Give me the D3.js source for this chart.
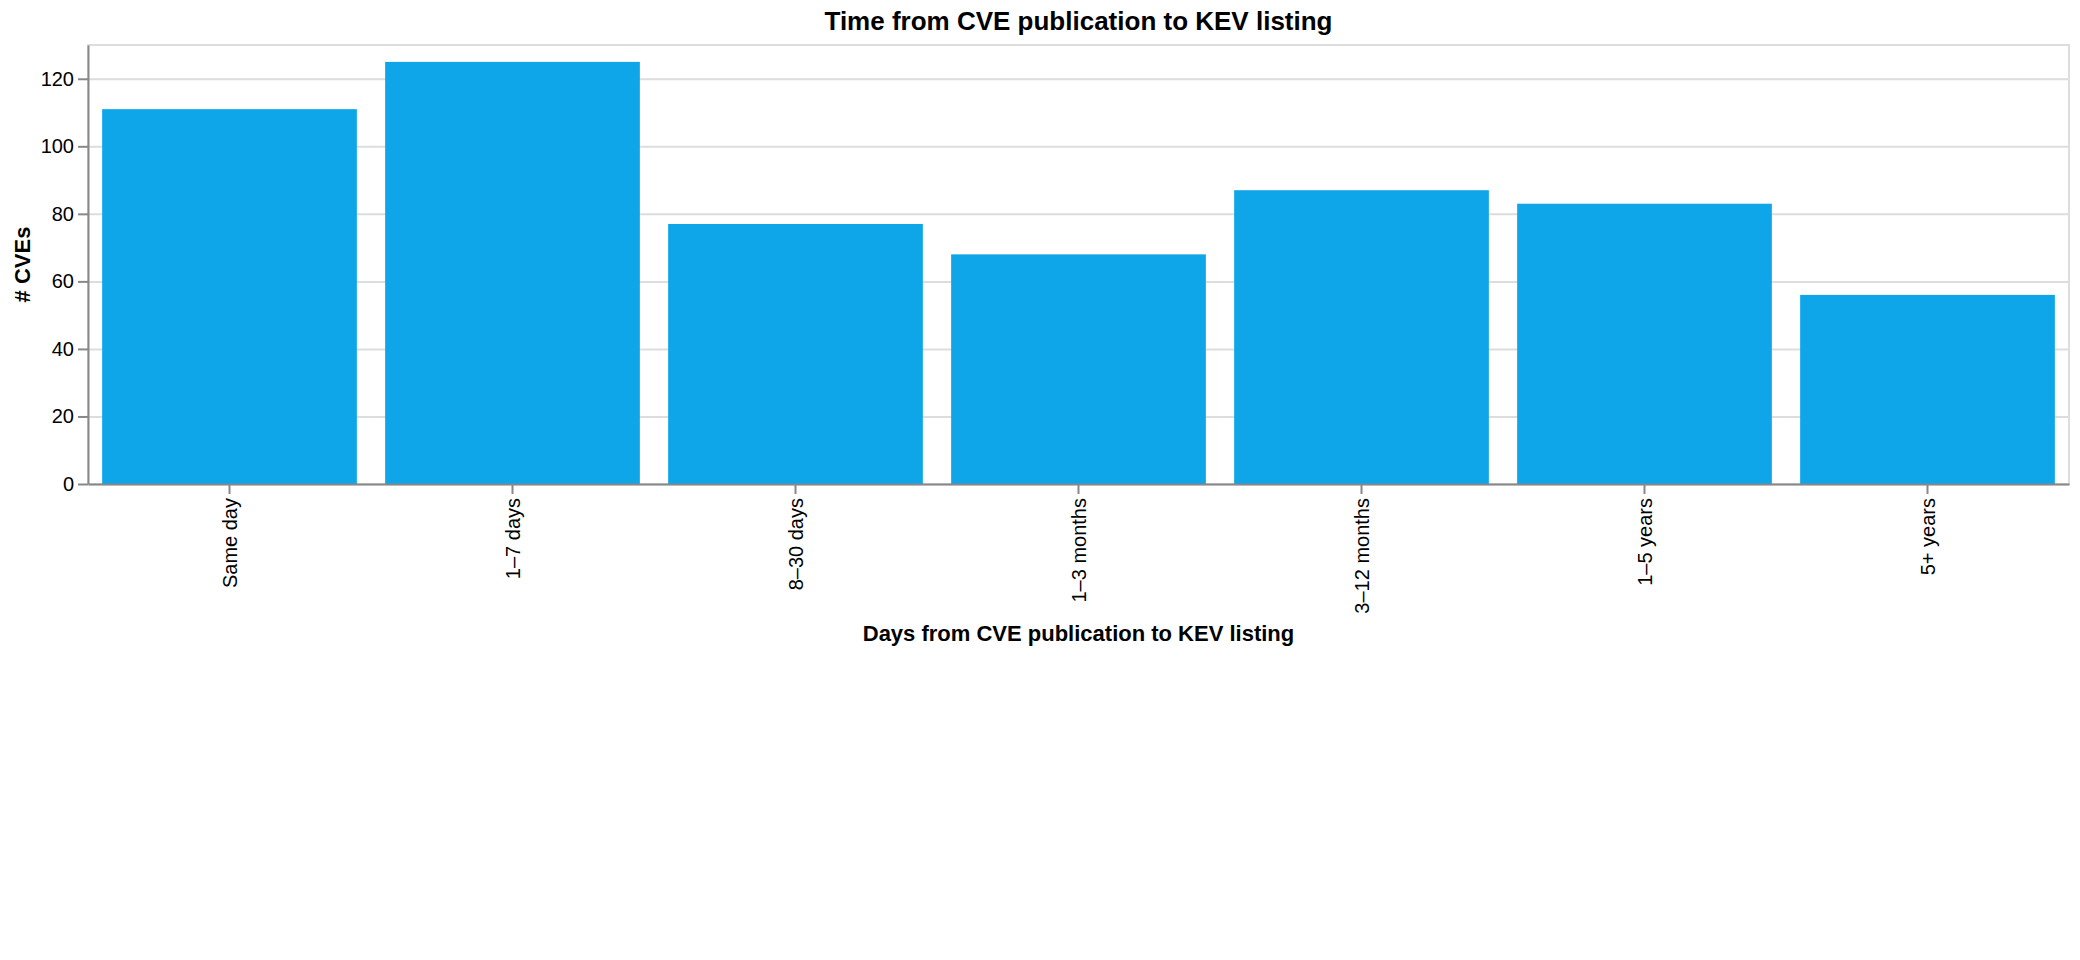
<!DOCTYPE html>
<html>
<head>
<meta charset="utf-8">
<script src="https://cdnjs.cloudflare.com/ajax/libs/d3/7.8.5/d3.min.js"></script>
<style>
  body { margin: 0; background: #fff; }
  .axis text { font-family: "Liberation Sans", Arial, sans-serif; font-size: 20px; fill: #000; }
  .axis path, .axis line { stroke: #888; stroke-width: 2px; }
  .grid line { stroke: #ddd; stroke-width: 2px; }
  .grid path { display: none; }
</style>
</head>
<body>
<svg id="chart" width="2080" height="960"></svg>
<script>
var categories = ["Same day", "1\u20137 days", "8\u201330 days", "1\u20133 months", "3\u201312 months", "1\u20135 years", "5+ years"];
var counts = [111, 125, 77, 68, 87, 83, 56];
var yTicks = [0, 20, 40, 60, 80, 100, 120];
var yMax = 130;

var svg = d3.select("#chart"),
    margin = {top: 45, right: 11, bottom: 476, left: 88},
    width = +svg.attr("width") - margin.left - margin.right,
    height = +svg.attr("height") - margin.top - margin.bottom,
    g = svg.append("g").attr("transform", "translate(" + margin.left + "," + margin.top + ")");

var data = categories.map(function(c, i) { return {cat: c, value: counts[i]}; });

var x = d3.scaleBand()
    .domain(categories)
    .range([0, width])
    .paddingInner(0.1)
    .paddingOuter(0.05);

var y = d3.scaleLinear()
    .domain([0, yMax])
    .range([height, 0]);

/* grid + view border */
g.append("g")
    .attr("class", "grid")
    .call(d3.axisLeft(y).tickValues(yTicks).tickSize(-width).tickFormat(""));

g.append("rect")
    .attr("width", width)
    .attr("height", height)
    .attr("fill", "none")
    .attr("stroke", "#ddd")
    .attr("stroke-width", 2);

/* bars */
g.append("g")
  .selectAll("rect")
  .data(data)
  .enter().append("rect")
    .attr("x", function(d) { return x(d.cat); })
    .attr("y", function(d) { return y(d.value); })
    .attr("width", x.bandwidth())
    .attr("height", function(d) { return height - y(d.value); })
    .attr("fill", "#0ea5e9");

/* x axis */
var xAxis = g.append("g")
    .attr("class", "axis")
    .attr("transform", "translate(0," + height + ")")
    .call(d3.axisBottom(x).tickSize(10).tickPadding(4).tickSizeOuter(0));

xAxis.selectAll("text")
    .attr("transform", "rotate(-90)")
    .attr("x", -14)
    .attr("y", 0)
    .attr("dy", "0.35em")
    .attr("text-anchor", "end");

/* y axis */
g.append("g")
    .attr("class", "axis")
    .call(d3.axisLeft(y).tickValues(yTicks).tickSize(10).tickPadding(4).tickSizeOuter(0));

/* titles */
svg.append("text")
    .attr("x", margin.left + width / 2)
    .attr("y", 30)
    .attr("text-anchor", "middle")
    .attr("font-family", "Liberation Sans, Arial, sans-serif")
    .attr("font-size", 26)
    .attr("font-weight", "bold")
    .text("Time from CVE publication to KEV listing");

svg.append("text")
    .attr("x", margin.left + width / 2)
    .attr("y", 641)
    .attr("text-anchor", "middle")
    .attr("font-family", "Liberation Sans, Arial, sans-serif")
    .attr("font-size", 22)
    .attr("font-weight", "bold")
    .text("Days from CVE publication to KEV listing");

svg.append("text")
    .attr("transform", "translate(30," + (margin.top + height / 2) + ") rotate(-90)")
    .attr("text-anchor", "middle")
    .attr("font-family", "Liberation Sans, Arial, sans-serif")
    .attr("font-size", 22)
    .attr("font-weight", "bold")
    .text("# CVEs");
</script>
</body>
</html>
